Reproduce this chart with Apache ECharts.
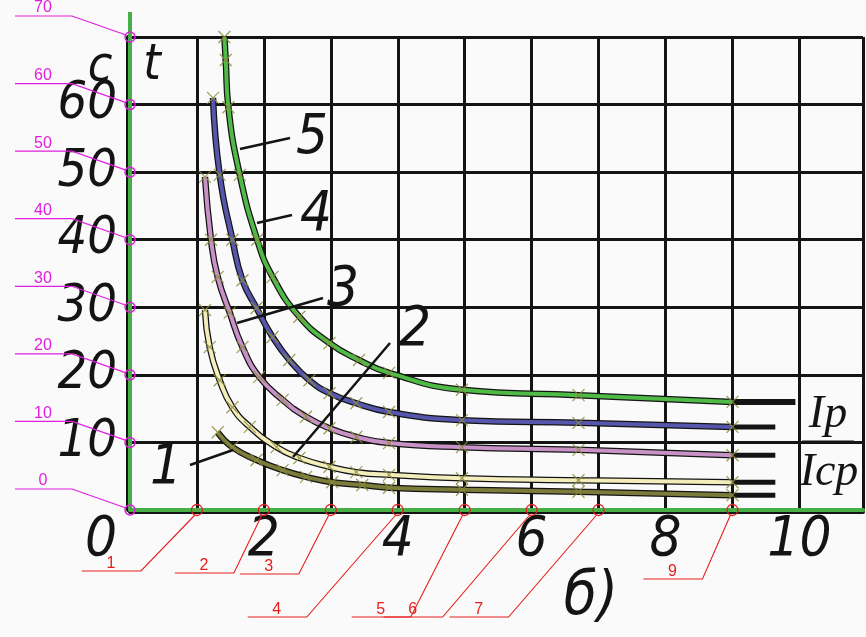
<!DOCTYPE html>
<html>
<head>
<meta charset="UTF-8">
<title>t = f(Ip/Icp)</title>
<script src="https://cdn.jsdelivr.net/npm/echarts@6/dist/echarts.min.js"></script>
<style>
html, body { margin: 0; padding: 0; background: #fafafa; }
#main { width: 866px; height: 637px; }
</style>
</head>
<body>
<div id="main"></div>
<script>
// data (x = Ip/Icp, y = t, c)
var curveNames = ['1', '2', '3', '4', '5'];
var curve1 = [[1.31, 11.5], [1.53, 9.3], [1.89, 7.4], [2.28, 5.9], [2.63, 4.9], [3.02, 4.1], [3.47, 3.7], [3.87, 3.3], [4.96, 3.0], [6.7, 2.7], [9, 2.2]];
var curve2 = [[1.12, 29.6], [1.19, 24.1], [1.34, 19.2], [1.53, 15.2], [1.79, 12.3], [2.19, 9.3], [2.53, 7.7], [2.98, 6.4], [3.38, 5.6], [3.87, 5.2], [4.96, 4.7], [6.7, 4.4], [9, 4.1]];
var curve3 = [[1.12, 49.3], [1.21, 40.0], [1.31, 34.5], [1.49, 29.2], [1.68, 24.1], [1.93, 19.7], [2.28, 16.3], [2.63, 13.8], [2.98, 12.1], [3.38, 10.8], [3.87, 9.9], [4.96, 9.3], [6.7, 8.9], [9, 8.1]];
var curve4 = [[1.24, 61.0], [1.34, 49.6], [1.53, 40.0], [1.68, 34.0], [1.89, 29.9], [2.13, 25.6], [2.38, 22.2], [2.68, 19.2], [2.98, 17.3], [3.38, 15.8], [3.87, 14.5], [4.96, 13.3], [6.7, 12.9], [9, 12.3]];
var curve5 = [[1.41, 70.0], [1.43, 66.6], [1.47, 59.6], [1.64, 49.6], [1.9, 40.0], [2.13, 34.5], [2.53, 28.6], [2.98, 24.7], [3.42, 22.2], [3.87, 20.3], [4.96, 17.8], [6.7, 17.0], [9, 16.0]];
var tailEnd = [9.64, 9.64, 9.64, 9.64, 9.94];
var xTickLabels = [0, 2, 4, 6, 8, 10];
var yTickLabels = [10, 20, 30, 40, 50, 60];
var yMarks = [0, 10, 20, 30, 40, 50, 60, 70];
var xMarks = [1, 2, 3, 4, 5, 6, 7, 9];

// layout / styles
var curves = [curve1, curve2, curve3, curve4, curve5];
var curveColors = ['#7b7b3a', '#f3ecbb', '#c992c6', '#5656ad', '#4fba45'];
var xLeader = [[-56, 61], [-30, 63], [-32, 64], [-91, 107], [-54, 107], [-89, 107], [-90, 107], [-30, 69]];
var magenta = '#e01ee0';
var red = '#e41e1e';
var ink = '#141414';
var scanFont = '"Liberation Sans Narrow", "DejaVu Sans Condensed", sans-serif';
var crossSymbol = 'path://M0,0L10,10M10,0L0,10';

var myChart = echarts.init(document.getElementById('main'));

var series = [];
// black scan strokes under the coloured traces
curves.forEach(function (c, i) {
    series.push({
        type: 'line', name: 'scan' + i, data: c, smooth: true, showSymbol: false, silent: true,
        lineStyle: { color: ink, width: 6.5 }, z: 2
    });
    var last = c[c.length - 1];
    series.push({
        type: 'line', name: 'tail' + i, data: [last, [tailEnd[i], last[1]]], showSymbol: false, silent: true,
        lineStyle: { color: ink, width: i === 4 ? 6 : 5 }, z: 2
    });
});
curves.forEach(function (c, i) {
    series.push({
        type: 'line', name: curveNames[i], data: c, smooth: true,
        symbol: crossSymbol, symbolSize: 12, showSymbol: true,
        itemStyle: { color: 'rgba(0,0,0,0)', borderColor: 'rgba(140,140,60,0.85)', borderWidth: 1.2 },
        lineStyle: { color: curveColors[i], width: 4 }, z: 3
    });
});

// magenta y markers
series.push({
    type: 'custom', name: 'ymarks', data: yMarks.map(function (v) { return [0, v]; }), z: 5, clip: false,
    renderItem: function (params, api) {
        var p = api.coord([0, api.value(1)]);
        return { type: 'group', children: [
            { type: 'circle', shape: { cx: p[0], cy: p[1], r: 5 }, style: { fill: 'none', stroke: magenta, lineWidth: 1.5 } },
            { type: 'polyline', shape: { points: [[p[0] - 4, p[1] - 2], [p[0] - 58, p[1] - 21], [p[0] - 115, p[1] - 21]] }, style: { fill: 'none', stroke: magenta, lineWidth: 1.2 } },
            { type: 'text', style: { x: p[0] - 87, y: p[1] - 21, text: String(api.value(1)), fill: magenta, font: '16px "Liberation Sans", sans-serif', align: 'center', verticalAlign: 'bottom' } }
        ] };
    }
});
// red x markers
series.push({
    type: 'custom', name: 'xmarks', data: xMarks.map(function (v) { return [v, 0]; }), z: 5, clip: false,
    renderItem: function (params, api) {
        var p = api.coord([api.value(0), 0]);
        var off = xLeader[params.dataIndex];
        var ex = p[0] + off[0], ey = p[1] + off[1];
        return { type: 'group', children: [
            { type: 'circle', shape: { cx: p[0], cy: p[1], r: 5.5 }, style: { fill: 'none', stroke: red, lineWidth: 1.3 } },
            { type: 'polyline', shape: { points: [[p[0] - 2, p[1] + 5], [ex, ey], [ex - 59, ey]] }, style: { fill: 'none', stroke: red, lineWidth: 1.1 } },
            { type: 'text', style: { x: ex - 30, y: ey + 1, text: String(api.value(0)), fill: red, font: '16px "Liberation Sans", sans-serif', align: 'center', verticalAlign: 'bottom' } }
        ] };
    }
});

function scanText(txt, x, y, size) {
    return { type: 'text', x: x, y: y, z: 10, style: { text: txt, fill: ink, font: 'italic ' + size + 'px ' + scanFont, align: 'center', verticalAlign: 'middle' } };
}
function scanLine(x1, y1, x2, y2, w) {
    return { type: 'line', z: 10, shape: { x1: x1, y1: y1, x2: x2, y2: y2 }, style: { stroke: ink, lineWidth: w || 2.5 } };
}

var option = {
    backgroundColor: '#fafafa',
    animation: false,
    grid: { left: 130, right: 0, top: 37, bottom: 127 },
    xAxis: {
        type: 'value', min: 0, max: 10.95, interval: 1,
        axisLine: { lineStyle: { color: '#46b046', width: 4, shadowColor: ink, shadowOffsetY: 2 } },
        axisTick: { show: false },
        splitLine: { show: true, lineStyle: { color: ink, width: 3 } },
        axisLabel: {
            margin: 2, color: ink, fontStyle: 'italic', fontSize: 56, fontFamily: scanFont,
            formatter: function (v) {
                if (xTickLabels.indexOf(v) < 0) return '';
                return v === 0 ? '{z|0}' : String(v);
            },
            rich: { z: { fontSize: 56, fontStyle: 'italic', fontFamily: scanFont, color: ink, padding: [0, 58, 0, 0] } }
        }
    },
    yAxis: {
        type: 'value', min: 0, max: 70, interval: 10,
        axisLine: { lineStyle: { color: '#46b046', width: 4, shadowColor: ink, shadowOffsetX: -2 } },
        axisTick: { show: false },
        splitLine: { show: true, lineStyle: { color: ink, width: 3 } },
        axisLabel: {
            margin: 13, color: ink, fontStyle: 'italic', fontSize: 52, fontFamily: scanFont,
            formatter: function (v) { return yTickLabels.indexOf(v) < 0 ? '' : String(v); }
        }
    },
    graphic: [
        { type: 'line', z: 4, shape: { x1: 130, y1: 12, x2: 130, y2: 37 }, style: { stroke: '#46b046', lineWidth: 4 } },
        scanText('c', 100, 68, 50),
        scanText('t', 152, 66, 50),
        scanLine(240, 149, 290, 138), scanText('5', 312, 138, 56),
        scanLine(257, 223, 292, 215), scanText('4', 316, 215, 56),
        scanLine(237, 323, 323, 298), scanText('3', 343, 290, 56),
        scanLine(293, 457, 390, 343), scanText('2', 415, 330, 56),
        scanLine(190, 465, 233, 450), scanText('1', 166, 468, 56),
        { type: 'text', x: 828, y: 415, z: 10, style: { text: 'Ip', fill: ink, font: 'italic 46px "Liberation Serif", serif', align: 'center', verticalAlign: 'middle' } },
        scanLine(802, 442, 854, 442, 3),
        { type: 'text', x: 829, y: 473, z: 10, style: { text: 'Icp', fill: ink, font: 'italic 46px "Liberation Serif", serif', align: 'center', verticalAlign: 'middle' } },
        scanText('б)', 591, 598, 60)
    ],
    series: series
};
myChart.setOption(option);
</script>
</body>
</html>
